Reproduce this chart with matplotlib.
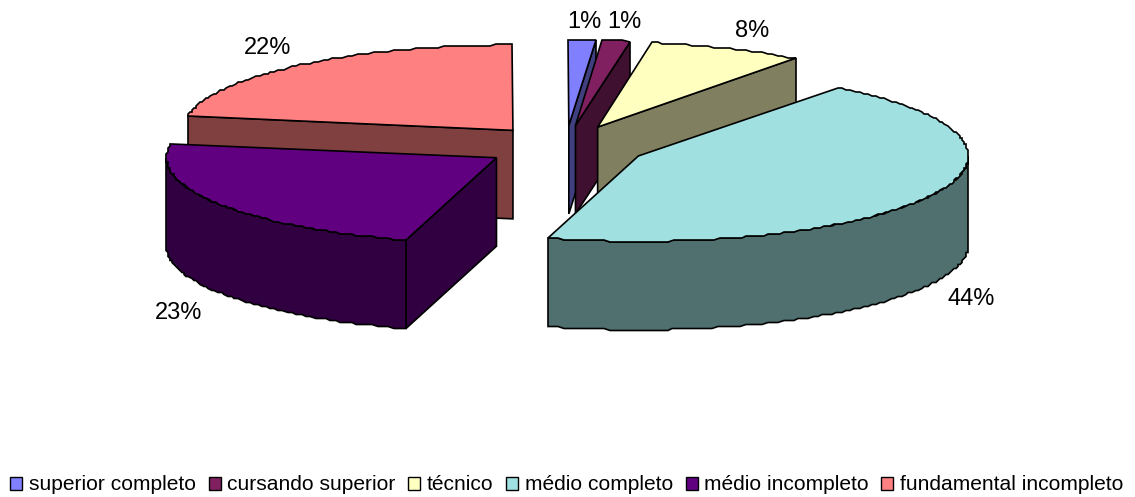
import numpy as np
import matplotlib
matplotlib.use("Agg")
import matplotlib.pyplot as plt
from matplotlib.patches import Polygon, Patch

categories = ["superior completo", "cursando superior", "técnico",
              "médio completo", "médio incompleto", "fundamental incompleto"]
shares = [1.3, 1.3, 7.7, 44.15, 23.25, 22.3]
colors = ["#8080FF", "#802060", "#FFFFC0", "#A0E0E0", "#600080", "#FF8080"]
sides = ["#404080", "#401030", "#808060", "#507070", "#300040", "#804040"]

# pie geometry, in pixels of the output
cx, cy = 565.5, 146.5
rx, ry = 330.0, 85.5
depth = 88.5
explode = 0.247
step = 2.0  # the original rim is visibly stepped

plt.rcParams["font.family"] = ["Liberation Sans", "DejaVu Sans"]

fig = plt.figure(figsize=(11.35, 4.97), dpi=100)
ax = fig.add_axes([0, 0, 1, 1])
ax.set_xlim(0, 1135)
ax.set_ylim(497, 0)
ax.axis("off")


def rim(tip, a0, a1):
    t = np.radians(np.linspace(a0, a1, max(int(a1 - a0), 2) + 1))
    x = tip[0] + rx * np.sin(t)
    y = tip[1] - ry * np.cos(t)
    return np.column_stack([np.round(x / step) * step, np.round(y / step) * step])


def face(pts, color, z):
    ax.add_patch(Polygon(pts, closed=True, facecolor=color, edgecolor="black",
                         linewidth=1.2, joinstyle="miter", zorder=z))


edges = np.concatenate([[0], np.cumsum(shares)]) / np.sum(shares) * 360
mids = (edges[:-1] + edges[1:]) / 2

# back slices first, front slices over them
order = np.argsort(-np.cos(np.radians(mids)))
for z, i in enumerate(order):
    a0, a1, m = edges[i], edges[i + 1], np.radians(mids[i])
    tip = (cx + explode * rx * np.sin(m), cy - explode * ry * np.cos(m))
    down = np.array([0, depth])
    top = rim(tip, a0, a1)

    # cut faces that look towards the viewer
    for a, pt, sign in [(a0, top[0], -1), (a1, top[-1], 1)]:
        if sign * np.sin(np.radians(a)) > 1e-6:
            quad = np.array([tip, pt, pt + down, np.array(tip) + down])
            face(quad, sides[i], z + 0.1)

    # outer wall, only the front half of the ellipse
    w0, w1 = max(a0, 90), min(a1, 270)
    if w1 > w0:
        wall = rim(tip, w0, w1)
        face(np.vstack([wall, (wall + down)[::-1]]), sides[i], z + 0.2)

    face(np.vstack([[tip], top]), colors[i], z + 0.3)

label_pos = [(584, 22), (624, 22), (752, 31), (971, 299), (179, 313), (268, 48)]
for s, (x, y) in zip(shares, label_pos):
    ax.text(x, y, f"{s:.0f}%", fontsize=17, ha="center", va="center",
            color="black", zorder=20)

handles = [Patch(facecolor=c, edgecolor="black", linewidth=1.0) for c in colors]
ax.legend(handles, categories, loc="center", bbox_to_anchor=(567, 485),
          bbox_transform=ax.transData, ncol=6, frameon=False, fontsize=15.1,
          handlelength=0.57, handleheight=0.57, handletextpad=0.33,
          columnspacing=0.59, borderpad=0, borderaxespad=0)

fig.savefig("out.png", dpi=100)
